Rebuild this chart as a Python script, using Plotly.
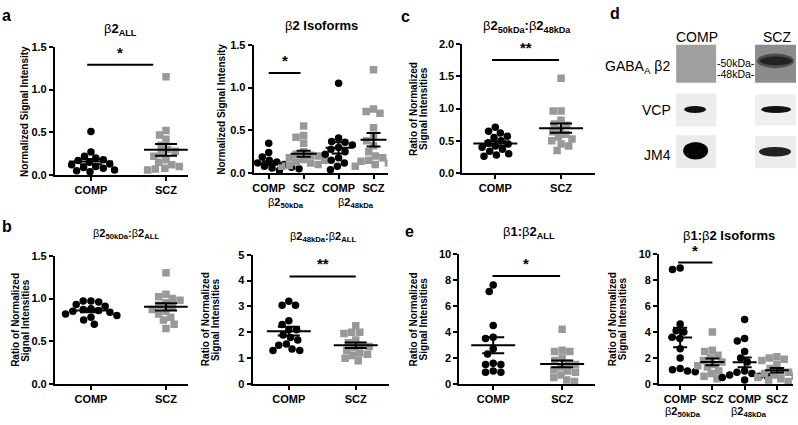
import numpy as np
import plotly.graph_objects as go

W, H = 798, 425
FONT = "Arial, Liberation Sans, Helvetica, sans-serif"

# ---------------- data ----------------
cats2 = ["COMP", "SCZ"]
cats4 = ["COMP", "SCZ", "COMP", "SCZ"]

a_all_comp = [0.51, 0.27, 0.22, 0.20, 0.18, 0.17, 0.15, 0.13, 0.12, 0.10, 0.09, 0.08, 0.06, 0.05, 0.04]
a_all_scz = [1.15, 0.52, 0.47, 0.42, 0.35, 0.30, 0.28, 0.25, 0.22, 0.18, 0.15, 0.12, 0.10, 0.08, 0.07, 0.06]
a_iso_comp50 = [0.35, 0.24, 0.19, 0.15, 0.13, 0.12, 0.10, 0.09, 0.08, 0.07, 0.06, 0.05, 0.05, 0.04, 0.03]
a_iso_scz50 = [0.55, 0.44, 0.42, 0.35, 0.25, 0.21, 0.22, 0.20, 0.18, 0.16, 0.15, 0.13, 0.12, 0.10, 0.09, 0.08]
a_iso_comp48 = [1.05, 0.41, 0.37, 0.36, 0.33, 0.30, 0.28, 0.25, 0.22, 0.18, 0.15, 0.12, 0.08, 0.04]
a_iso_scz48 = [1.21, 0.75, 0.72, 0.70, 0.53, 0.42, 0.38, 0.32, 0.25, 0.20, 0.18, 0.15, 0.14, 0.12, 0.10, 0.08]
c_comp = [0.71, 0.65, 0.62, 0.57, 0.55, 0.50, 0.47, 0.45, 0.42, 0.40, 0.37, 0.34, 0.30, 0.28, 0.26]
c_scz = [1.47, 0.96, 0.96, 0.82, 0.76, 0.74, 0.68, 0.64, 0.60, 0.56, 0.53, 0.50, 0.45, 0.42, 0.35]
b50_comp = [0.97, 0.97, 0.96, 0.93, 0.91, 0.88, 0.87, 0.86, 0.85, 0.84, 0.82, 0.80, 0.78, 0.75, 0.70]
b50_scz = [1.30, 1.05, 1.02, 1.00, 0.98, 0.95, 0.92, 0.90, 0.87, 0.85, 0.82, 0.78, 0.75, 0.70, 0.65]
b48_comp = [3.2, 3.05, 3.05, 2.45, 2.3, 2.1, 2.1, 1.9, 1.8, 1.7, 1.55, 1.5, 1.35, 1.3, 1.3]
b48_scz = [2.25, 2.0, 2.0, 1.95, 1.7, 1.6, 1.5, 1.45, 1.4, 1.3, 1.2, 1.15, 1.1, 1.0, 0.9]
e_all_comp = [7.6, 7.1, 4.5, 3.6, 3.5, 2.7, 2.3, 1.6, 1.5, 1.5, 1.0, 0.9, 0.9]
e_all_scz = [4.2, 2.6, 2.5, 2.5, 2.0, 1.8, 1.6, 1.5, 1.3, 1.1, 1.0, 0.9, 0.7, 0.5, 0.3, 0.2]
e_iso_comp50 = [8.9, 8.8, 4.6, 4.1, 4.0, 3.6, 3.5, 2.7, 2.0, 1.2, 1.1, 1.0, 0.95]
e_iso_scz50 = [4.0, 2.6, 2.5, 2.2, 2.0, 1.8, 1.7, 1.5, 1.4, 1.3, 1.0, 0.8, 0.6, 0.4]
e_iso_comp48 = [4.95, 3.5, 3.3, 2.5, 2.0, 1.7, 1.0, 0.9, 0.8, 0.7, 0.6, 0.6, 0.5, 0.3]
e_iso_scz48 = [2.1, 2.0, 1.9, 1.8, 1.5, 1.2, 1.0, 0.9, 0.8, 0.7, 0.6, 0.5, 0.4, 0.3, 0.2]

# significance bars: (x0, x1, y, label)
sig_a_all = (-0.05, 0.83, 1.29, "*")
sig_a_iso = (0.0, 0.91, 1.17, "*")
sig_c = (-0.05, 0.97, 1.75, "**")
sig_b48 = (0.01, 1.0, 4.16, "**")
sig_e_all = (-0.01, 0.97, 8.3, "*")
sig_e_iso = (-0.06, 1.0, 9.33, "*")

BLACK = "#000000"
GRAY = "#999999"

def style(i):
    return ("circle", BLACK) if i % 2 == 0 else ("square", GRAY)

Y_NORM = ["Normalized Signal Intensity"]
Y_RATIO = ["Ratio of Normalized", "Signal Intensities"]

panels = [
    dict(xpx=(54, 187), ypx=(42, 174), xr=(-0.48, 1.29), yr=(0, 1.5), dtick=0.5, fmt=".1f",
         cats=cats2, groups=[a_all_comp, a_all_scz], sig=sig_a_all, hw=22, cap=11,
         title="β<b>2<sub>ALL</sub></b>", tpos=(120, 24), tsize=13,
         ytitle=Y_NORM, ytx=24),
    dict(xpx=(253, 387), ypx=(40, 172), xr=(-0.43, 3.4), yr=(0, 1.5), dtick=0.5, fmt=".1f",
         cats=cats4, groups=[a_iso_comp50, a_iso_scz50, a_iso_comp48, a_iso_scz48], sig=sig_a_iso,
         hw=13, cap=7, title="β<b>2 Isoforms</b>", tpos=(321, 20), tsize=13,
         ytitle=Y_NORM, ytx=220,
         sub=[(0.5, 203), (2.5, 203)]),
    dict(xpx=(462, 595), ypx=(39, 172), xr=(-0.5, 1.52), yr=(0, 2.0), dtick=0.5, fmt=".1f",
         cats=cats2, groups=[c_comp, c_scz], sig=sig_c, hw=22, cap=11,
         title="β<b>2<sub>50kDa</sub>:</b>β<b>2<sub>48kDa</sub></b>", tpos=(527, 21), tsize=13,
         ytitle=Y_RATIO, ytx=418),
    dict(xpx=(54, 187), ypx=(257, 389), xr=(-0.48, 1.29), yr=(0, 1.5), dtick=0.5, fmt=".1f",
         cats=cats2, groups=[b50_comp, b50_scz], sig=None, hw=22, cap=11,
         title="β<b>2<sub>50kDa</sub>:</b>β<b>2<sub>ALL</sub></b>", tpos=(125, 235), tsize=11,
         ytitle=Y_RATIO, ytx=20),
    dict(xpx=(252, 388), ypx=(256, 389), xr=(-0.54, 1.49), yr=(0, 5), dtick=1, fmt="d",
         cats=cats2, groups=[b48_comp, b48_scz], sig=sig_b48, hw=22, cap=11,
         title="β<b>2<sub>48kDa</sub>:</b>β<b>2<sub>ALL</sub></b>", tpos=(322, 238), tsize=11,
         ytitle=Y_RATIO, ytx=210),
    dict(xpx=(459, 595), ypx=(255, 389), xr=(-0.49, 1.48), yr=(0, 10), dtick=2, fmt="d",
         cats=cats2, groups=[e_all_comp, e_all_scz], sig=sig_e_all, hw=22, cap=11,
         title="β<b>1:</b>β<b>2<sub>ALL</sub></b>", tpos=(529, 233), tsize=13,
         ytitle=Y_RATIO, ytx=418),
    dict(xpx=(659, 793), ypx=(255, 389), xr=(-0.65, 3.5), yr=(0, 10), dtick=2, fmt="d",
         cats=cats4, groups=[e_iso_comp50, e_iso_scz50, e_iso_comp48, e_iso_scz48], sig=sig_e_iso,
         hw=12, cap=7, title="β<b>1:</b>β<b>2 Isoforms</b>", tpos=(729, 236), tsize=13,
         ytitle=Y_RATIO, ytx=618,
         sub=[(0.1, 418), (2.15, 418)]),
]


def swarm(vals, ppu_y, diam):
    vals = np.asarray(vals, float)
    order = np.argsort(-vals, kind="stable")
    placed = []
    offs = np.zeros(len(vals))
    for i in order:
        y = vals[i] * ppu_y
        cands = [0.0]
        for py, px in placed:
            dy = abs(y - py)
            if dy < diam:
                dx = np.sqrt(diam ** 2 - dy ** 2)
                cands += [px + dx, px - dx]
        cands = sorted(cands, key=lambda c: (abs(c), c))
        for c in cands:
            if all((c - px) ** 2 + (y - py) ** 2 >= diam ** 2 - 1e-6 for py, px in placed):
                offs[i] = c
                placed.append((y, c))
                break
    return offs


fig = go.Figure()
layout = dict(width=W, height=H, margin=dict(l=0, r=0, t=0, b=0), paper_bgcolor="white",
              plot_bgcolor="white", showlegend=False, font=dict(family=FONT, color="black", size=11))
shapes = []
annotations = []


def ppx(x):
    return x / W


def ppy(y):
    return 1 - y / H


tickfont = dict(family=FONT, size=11, color="black", weight="bold")

for k, p in enumerate(panels, start=1):
    xs = "" if k == 1 else str(k)
    x0, x1 = p["xpx"]
    yt, yb = p["ypx"]
    n = len(p["cats"])
    layout["xaxis" + xs] = dict(domain=[ppx(x0), ppx(x1)], range=list(p["xr"]), anchor="y" + xs,
                                tickvals=list(range(n)), ticktext=p["cats"], showline=True,
                                linewidth=2, linecolor="black", ticks="outside", ticklen=4,
                                tickwidth=2, tickcolor="black", showgrid=False, zeroline=False,
                                tickfont=tickfont, fixedrange=True)
    layout["yaxis" + xs] = dict(domain=[ppy(yb), ppy(yt)], range=list(p["yr"]), anchor="x" + xs,
                                dtick=p["dtick"], tick0=0, tickformat=p["fmt"], showline=True,
                                linewidth=2, linecolor="black", ticks="outside", ticklen=4,
                                tickwidth=2, tickcolor="black", showgrid=False, zeroline=False,
                                tickfont=tickfont, fixedrange=True)
    ppu_y = (yb - yt) / (p["yr"][1] - p["yr"][0])
    ppu_x = (x1 - x0) / (p["xr"][1] - p["xr"][0])
    # points
    for j, vals in enumerate(p["groups"]):
        sym, col = style(j)
        offs = swarm(vals, ppu_y, 7.8) / ppu_x
        fig.add_trace(go.Scatter(x=j + offs, y=vals, mode="markers", xaxis="x" + xs, yaxis="y" + xs,
                                 marker=dict(symbol=sym, color=col, size=7.5, line=dict(width=0)),
                                 hoverinfo="skip"))
    # mean +/- SEM
    for j, vals in enumerate(p["groups"]):
        v = np.asarray(vals, float)
        m = v.mean()
        sem = v.std(ddof=1) / np.sqrt(len(v))
        fig.add_trace(go.Scatter(x=[j], y=[m], mode="markers", xaxis="x" + xs, yaxis="y" + xs,
                                 marker=dict(size=1, color="rgba(0,0,0,0)"),
                                 error_x=dict(type="data", array=[p["hw"] / ppu_x], symmetric=True,
                                              color="black", thickness=2, width=0),
                                 error_y=dict(type="data", array=[sem], symmetric=True,
                                              color="black", thickness=2, width=p["cap"]),
                                 hoverinfo="skip"))
    # significance
    if p["sig"]:
        sx0, sx1, sy, lab = p["sig"]
        shapes.append(dict(type="line", xref="x" + xs, yref="y" + xs, x0=sx0, x1=sx1, y0=sy, y1=sy,
                           line=dict(color="black", width=2)))
        annotations.append(dict(xref="x" + xs, yref="y" + xs, x=(sx0 + sx1) / 2, y=sy, yshift=2,
                                text="<b>" + lab + "</b>", showarrow=False, yanchor="bottom",
                                font=dict(size=15, family=FONT, color="black")))
    # title
    tx, ty = p["tpos"]
    annotations.append(dict(xref="paper", yref="paper", x=ppx(tx), y=ppy(ty), text=p["title"],
                            showarrow=False, xanchor="center", yanchor="middle",
                            font=dict(size=p["tsize"], family=FONT, color="black")))
    # y-axis title (one annotation per line, 10 px apart)
    lines = p["ytitle"]
    nl = len(lines)
    for li, line in enumerate(lines):
        cx = p["ytx"] + (li - (nl - 1) / 2) * 10
        annotations.append(dict(xref="paper", yref="paper", x=ppx(cx), y=ppy((yt + yb) / 2),
                                text="<b>" + line + "</b>", textangle=-90, showarrow=False,
                                xanchor="center", yanchor="middle",
                                font=dict(size=10, family=FONT, color="black")))
    # isoform sub-labels
    for (sxv, syp), lab in zip(p.get("sub", []), ["β<b>2<sub>50kDa</sub></b>", "β<b>2<sub>48kDa</sub></b>"]):
        annotations.append(dict(xref="x" + xs, yref="paper", x=sxv, y=ppy(syp), text=lab,
                                showarrow=False, xanchor="center", yanchor="middle",
                                font=dict(size=11, family=FONT, color="black")))

# panel letters
for lab, (lx, ly) in zip(["a", "b", "c", "d", "e"],
                         [(6, 10), (6, 227), (405, 11), (615, 8), (409, 232)]):
    annotations.append(dict(xref="paper", yref="paper", x=ppx(lx), y=ppy(ly), text="<b>" + lab + "</b>",
                            showarrow=False, xanchor="center", yanchor="middle",
                            font=dict(size=16, family=FONT, color="black")))

# ---- panel d: western blot illustration ----
def rect(xa, ya, xb, yb, fill, kind="rect", opacity=1.0):
    shapes.append(dict(type=kind, xref="paper", yref="paper", x0=ppx(xa), x1=ppx(xb),
                       y0=ppy(yb), y1=ppy(ya), fillcolor=fill, opacity=opacity,
                       line=dict(width=0), layer="above"))

# GABAA b2 boxes
rect(676, 40, 716, 79, "#9f9f9f")
rect(755, 40, 796, 79, "#8c8c8c")
rect(757, 49, 794, 64, "#3a3a3a", kind="circle", opacity=0.75)
rect(760, 52, 792, 61, "#1c1c1c", kind="circle", opacity=0.85)
# VCP boxes
rect(676, 90, 716, 124, "#ececec")
rect(755, 91, 796, 123, "#eeeeee")
rect(684, 103, 706, 110, "#111111", kind="circle")
rect(761, 103, 791, 110, "#111111", kind="circle")
# JM4 boxes
rect(676, 133, 716, 167, "#eaeaea")
rect(755, 134, 796, 167, "#ececec")
rect(683, 140, 708, 158, "#050505", kind="circle")
rect(759, 145, 791, 155, "#222222", kind="circle")

blot_text = [
    ("COMP", 697, 32, "center", 14),
    ("SCZ", 777, 32, "center", 14),
    ("GABA<sub>A</sub> β2", 672, 63, "right", 14),
    ("VCP", 673, 107, "right", 14),
    ("JM4", 673, 153, "right", 14),
    ("-50kDa-", 736, 59, "center", 10.5),
    ("-48kDa-", 736, 70, "center", 10.5),
]
for txt, bx, by, anc, fs in blot_text:
    annotations.append(dict(xref="paper", yref="paper", x=ppx(bx), y=ppy(by), text=txt,
                            showarrow=False, xanchor=anc, yanchor="middle",
                            font=dict(size=fs, family=FONT, color="black")))

layout["shapes"] = shapes
layout["annotations"] = annotations
fig.update_layout(**layout)
fig.write_html("out.html", config={"displayModeBar": False},
               post_script="document.body.style.margin='0';document.body.style.padding='0';"
                           "document.body.style.overflow='hidden';")
